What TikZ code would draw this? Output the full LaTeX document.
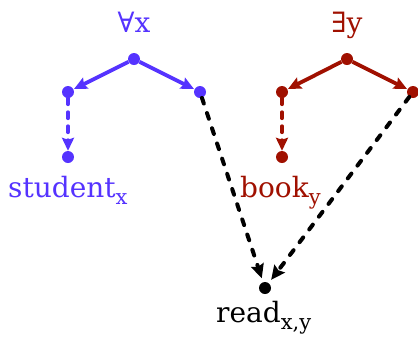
\documentclass[tikz,border=0pt]{standalone}
\usepackage{fontspec}
\setmainfont{DejaVu Serif}
\usetikzlibrary{arrows.meta}
\definecolor{qblue}{RGB}{85,51,255}
\definecolor{qred}{RGB}{160,16,0}
\newcommand{\subx}[1]{\raisebox{-0.26em}{\fontsize{21}{21}\selectfont #1}}
\begin{document}
\begin{tikzpicture}[x=1pt,y=-1pt,
  dotnode/.style={circle,fill,inner sep=0pt,minimum size=12pt},
  lbl/.style={inner sep=0pt,font=\fontsize{28}{28}\selectfont},
  solidarr/.style={line width=3.8pt,-{Stealth[length=13pt,width=12pt,inset=2pt]},shorten >=0.5pt},
  dasharr/.style={line width=3.8pt,dash pattern=on 6pt off 8pt,line cap=round,-{Stealth[length=13pt,width=12pt,inset=2pt,line cap=butt]}},
  dasharrb/.style={line width=4pt,line cap=round,dash pattern=on 6pt off 10pt,-{Stealth[length=14pt,width=13pt,inset=2pt,line cap=butt]}}]
\useasboundingbox (0,0) rectangle (418,338);
% blue tree
\node[dotnode,qblue] (ar) at (134,59) {};
\node[dotnode,qblue] (al) at (68,92) {};
\node[dotnode,qblue] (aR) at (200,92) {};
\node[dotnode,qblue] (as) at (68,157) {};
\node[lbl,text=qblue,anchor=base] (alab) at (134,32) {∀x};
\node[lbl,text=qblue,anchor=base west] (slab) at (8,197) {student\subx{x}};
\draw[qblue,solidarr] (ar) -- (al);
\draw[qblue,solidarr] (ar) -- (aR);
\draw[qblue,dasharr] (al) -- (as);
% red tree
\node[dotnode,qred] (er) at (347,59) {};
\node[dotnode,qred] (el) at (282,92) {};
\node[dotnode,qred] (eR) at (413,92) {};
\node[dotnode,qred] (eb) at (282,157) {};
\node[lbl,text=qred,anchor=base] (elab) at (347,32) {∃y};
\node[lbl,text=qred,anchor=base west] (blab) at (240,197) {book\subx{y}};
\draw[qred,solidarr] (er) -- (el);
\draw[qred,solidarr] (er) -- (eR);
\draw[qred,dasharr] (el) -- (eb);
% read
\node[dotnode,black] (rd) at (265,288) {};
\node[lbl,anchor=base west] (rlab) at (216,322) {read\subx{x,y}};
\draw[dasharrb,shorten >=4pt] (aR) -- (rd);
\draw[dasharrb,shorten >=4pt] (eR) -- (rd);
\end{tikzpicture}
\end{document}
